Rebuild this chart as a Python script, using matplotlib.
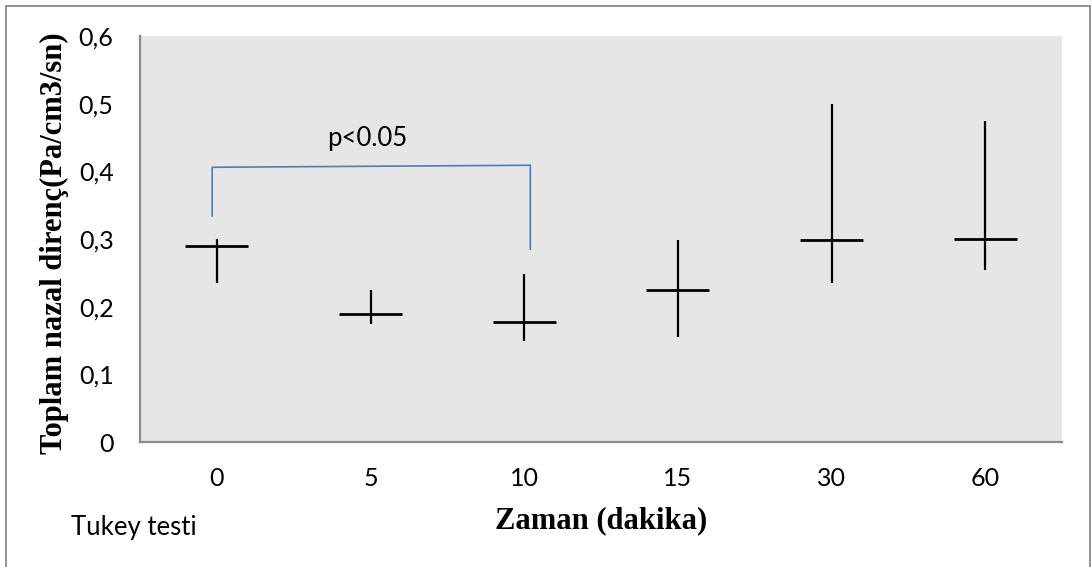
import matplotlib
matplotlib.use("Agg")
import matplotlib.pyplot as plt
import matplotlib.patches as mpatches

times = ["0", "5", "10", "15", "30", "60"]
means = [0.289, 0.189, 0.178, 0.224, 0.299, 0.300]
highs = [0.300, 0.224, 0.249, 0.299, 0.500, 0.474]
lows = [0.235, 0.175, 0.149, 0.155, 0.235, 0.254]

# Tukey bracket between 0 and 10 min
bracket_x = [-0.03, -0.03, 2.04, 2.04]
bracket_y = [0.334, 0.406, 0.409, 0.285]
yticks = [0, 0.1, 0.2, 0.3, 0.4, 0.5, 0.6]

fig = plt.figure(figsize=(10.92, 5.67), dpi=100, facecolor="white")
ax = fig.add_axes([140 / 1092, 125 / 567, 922 / 1092, 406 / 567])
ax.set_facecolor("#e6e6e6")

xs = list(range(len(times)))
ax.vlines(xs, lows, highs, color="black", linewidth=1.6)
ax.hlines(means, [x - 0.205 for x in xs], [x + 0.205 for x in xs], color="black", linewidth=2.0)

ax.plot(bracket_x, bracket_y, color="#4a7ebb", linewidth=1.2)
ax.text(0.98, 0.448, "p<0.05", ha="center", va="center", fontsize=18.5, family="Lato", color="black")

ax.set_xlim(-0.5, len(times) - 0.5)
ax.set_ylim(0, 0.6)
ax.set_xticks(xs)
ax.set_xticklabels(times, fontsize=18, family="Lato")
ax.set_yticks(yticks)
ax.set_yticklabels([("%g" % v).replace(".", ",") for v in yticks], fontsize=18, family="Lato")
ax.tick_params(length=0)
ax.tick_params(axis="x", pad=18)
ax.tick_params(axis="y", pad=19)

for s in ["top", "right"]:
    ax.spines[s].set_visible(False)
for s in ["left", "bottom"]:
    ax.spines[s].set_color("#8a8a8a")
    ax.spines[s].set_linewidth(1.6)

fig.text(601 / 1092, 1 - 521 / 567, "Zaman (dakika)", ha="center", va="center",
         fontsize=22, fontweight="bold", family="Liberation Serif")
fig.text(54 / 1092, 1 - 243 / 567, "Toplam nazal direnç(Pa/cm3/sn)", ha="center", va="center",
         rotation=90, fontsize=22, fontweight="bold", family="Liberation Serif")
fig.text(71 / 1092, 1 - 528 / 567, "Tukey testi", ha="left", va="center", fontsize=18.5, family="Lato")

border = mpatches.Rectangle((6 / 1092, -0.01), 1084 / 1092, 1 - 6 / 567 + 0.01,
                            transform=fig.transFigure, fill=False, edgecolor="#8a8a8a", linewidth=1.3)
fig.patches.append(border)

plt.savefig("out.png", dpi=100, facecolor="white")
plt.close()
